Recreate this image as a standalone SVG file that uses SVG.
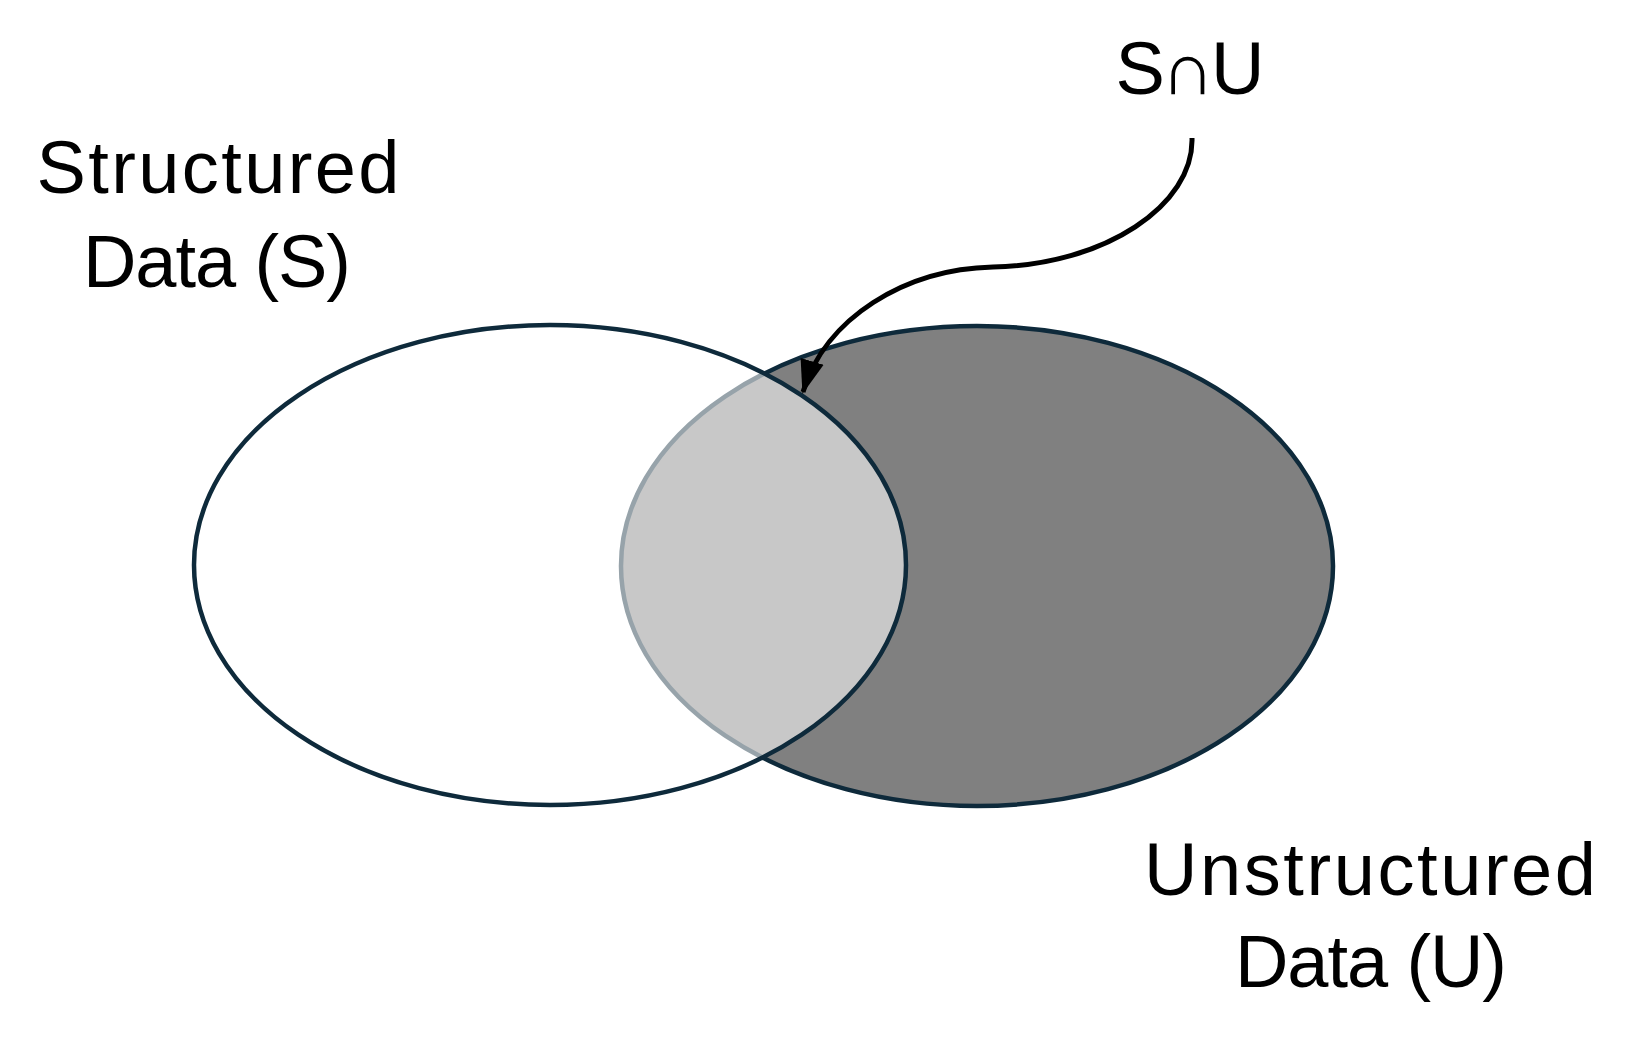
<svg xmlns="http://www.w3.org/2000/svg" width="1636" height="1047" viewBox="0 0 1636 1047">
<defs>
<style>
.lbl{font-family:"Liberation Sans",Arial,sans-serif;font-size:74px;fill:#000;text-anchor:middle}
.set{stroke:#0e2a3b;stroke-width:4.5}
</style>
<marker id="ah" markerUnits="userSpaceOnUse" markerWidth="34" markerHeight="34" viewBox="0 0 34 34" refX="32" refY="17" orient="auto">
<path d="M0,5 L34,17 L0,29 Z" fill="#000"/>
</marker>
</defs>
<rect width="1636" height="1047" fill="#fff"/>
<g id="unstructured">
<ellipse class="set" cx="977" cy="566" rx="356" ry="240" fill="#808080"/>
</g>
<g id="structured">
<ellipse class="set" cx="550" cy="565" rx="356" ry="240" fill="#fff" fill-opacity="0.57"/>
</g>
<g id="labels">
<text class="lbl" x="218" y="193" textLength="363" lengthAdjust="spacing">Structured</text>
<text class="lbl" x="217" y="287" textLength="268" lengthAdjust="spacing">Data (S)</text>
<text class="lbl" x="1190" y="94" textLength="149" lengthAdjust="spacing">S∩U</text>
<text class="lbl" x="1370" y="895" textLength="452" lengthAdjust="spacing">Unstructured</text>
<text class="lbl" x="1371" y="987" textLength="272" lengthAdjust="spacing">Data (U)</text>
</g>
<g id="connectors">
<path d="M1192,138 C1194,205 1105,265 993,267 C905,269 825,318 803,392" fill="none" stroke="#000" stroke-width="5" marker-end="url(#ah)"/>
</g>
</svg>
